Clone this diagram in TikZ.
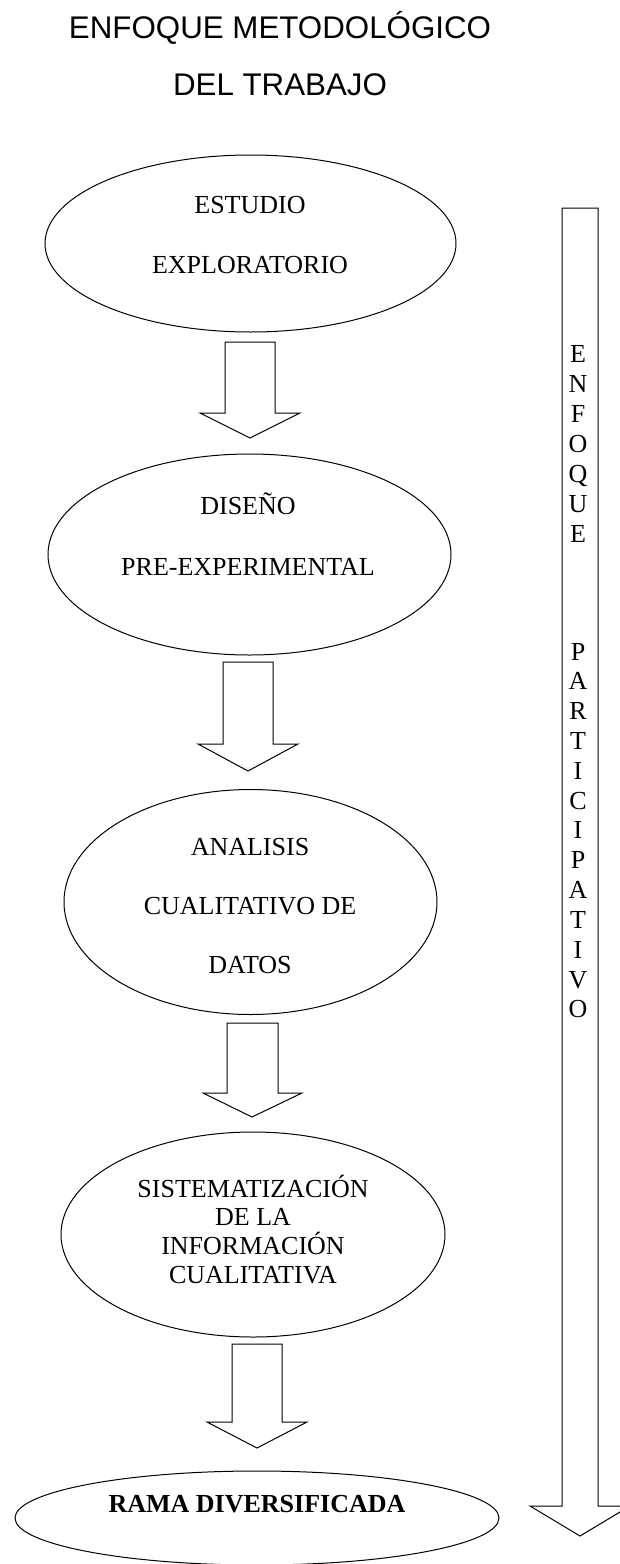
\documentclass[tikz,border=0pt]{standalone}
\usepackage{fontspec}
\setmainfont{Liberation Serif}
\newfontfamily\titlefont{Liberation Sans}
\usetikzlibrary{shapes.geometric}
\begin{document}
\begin{tikzpicture}[x=1pt,y=-1pt,
  ell/.style={draw, ellipse, inner sep=0pt, line width=1pt},
  lbl/.style={anchor=base, inner sep=0pt, font=\fontsize{26}{30}\selectfont},
  boldlbl/.style={lbl, font=\fontsize{26}{30}\selectfont\bfseries},
  ttl/.style={anchor=base, inner sep=0pt, font=\titlefont\fontsize{31.3}{36}\selectfont},
  barletter/.style={anchor=base, inner sep=0pt, font=\fontsize{26}{30}\selectfont},
  blockarrow/.style={draw, line width=1pt, line join=miter, fill=white}]
\useasboundingbox (0,0) rectangle (619,1564);

% title
\node[ttl] (t1) at (280,38) {ENFOQUE METODOLÓGICO};
\node[ttl] (t2) at (280,95) {DEL TRABAJO};

% ellipses
\node[ell, minimum width=411pt, minimum height=177pt] (e1) at (250.5,243.5) {};
\node[ell, minimum width=403pt, minimum height=201pt] (e2) at (249.5,554.5) {};
\node[ell, minimum width=373pt, minimum height=225pt] (e3) at (250.5,902) {};
\node[ell, minimum width=384pt, minimum height=205pt] (e4) at (253,1234.5) {};
\node[ell, minimum width=484pt, minimum height=94pt] (e5) at (257,1518) {};

% texts
\node[lbl] (e1a) at (250,213) {ESTUDIO};
\node[lbl] (e1b) at (250,273) {EXPLORATORIO};
\node[lbl] (e2a) at (248,514) {DISEÑO};
\node[lbl] (e2b) at (248,575) {PRE-EXPERIMENTAL};
\node[lbl] (e3a) at (250,855) {ANALISIS};
\node[lbl] (e3b) at (250,914) {CUALITATIVO DE};
\node[lbl] (e3c) at (250,973) {DATOS};
\node[lbl] (e4a) at (253,1197) {SISTEMATIZACIÓN};
\node[lbl] (e4b) at (253,1225) {DE LA};
\node[lbl] (e4c) at (253,1254) {INFORMACIÓN};
\node[lbl] (e4d) at (253,1283) {CUALITATIVA};
\node[boldlbl] (e5a) at (257,1512) {RAMA DIVERSIFICADA};

% block arrows between ellipses
\draw[blockarrow] (225,342) -- (225,413) -- (200,413) -- (250,438) -- (300,413) -- (275,413) -- (275,342) -- cycle;
\draw[blockarrow] (223,662) -- (223,744) -- (198,744) -- (248,771) -- (298,744) -- (273,744) -- (273,662) -- cycle;
\draw[blockarrow] (227,1023) -- (227,1093) -- (203,1093) -- (252,1117) -- (302,1093) -- (278,1093) -- (278,1023) -- cycle;
\draw[blockarrow] (232,1344) -- (232,1422) -- (207,1422) -- (257,1448) -- (307,1422) -- (282,1422) -- (282,1344) -- cycle;

% long side arrow
\draw[blockarrow] (562,208) -- (562,1506) -- (530,1506) -- (580,1536) -- (630,1506) -- (598,1506) -- (598,208) -- cycle;

\foreach \ch [count=\i from 0] in {E,N,F,O,Q,U,E}
  \node[barletter] (ba\i) at (578,362+30*\i) {\ch};
\foreach \ch [count=\i from 0] in {P,A,R,T,I,C,I,P,A,T,I,V,O}
  \node[barletter] (bb\i) at (578,660+29.83*\i) {\ch};
\end{tikzpicture}
\end{document}
